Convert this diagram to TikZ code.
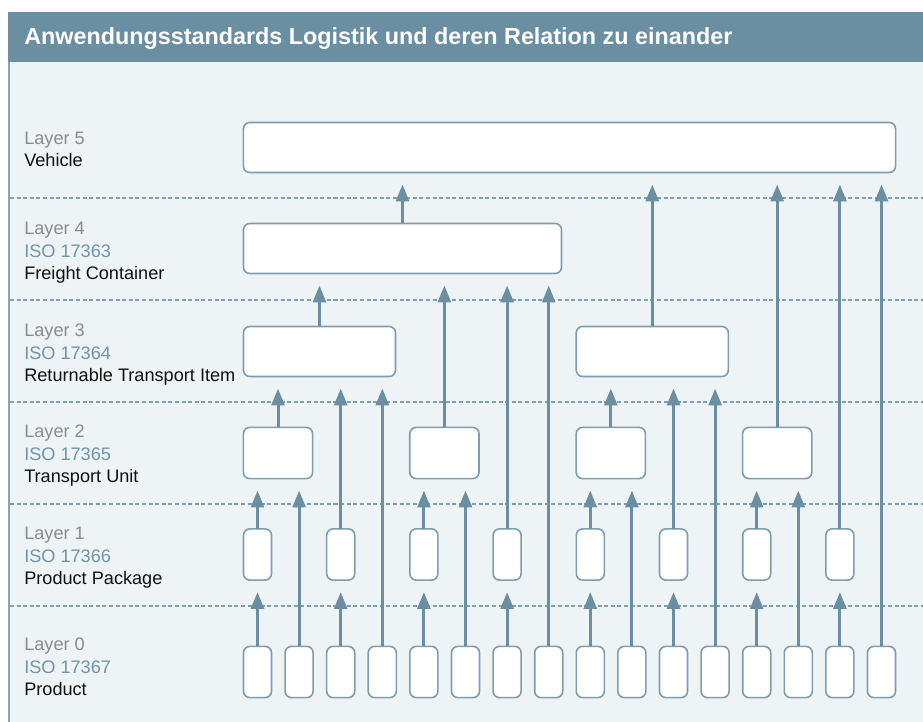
\documentclass[tikz,border=0pt]{standalone}
\usepackage{fontspec}
\setmainfont{Liberation Sans}
\usetikzlibrary{positioning,arrows.meta}
\definecolor{barblue}{HTML}{6A8FA2}
\definecolor{paleback}{HTML}{EEF3F6}
\definecolor{edgeblue}{HTML}{8AA6B5}
\definecolor{boxline}{HTML}{7E9DB0}
\definecolor{dashblue}{HTML}{7F9FB0}
\definecolor{graytxt}{HTML}{8C8C8C}
\definecolor{isotxt}{HTML}{6E95AA}
\definecolor{nametxt}{HTML}{101010}

\begin{document}
\begin{tikzpicture}[
    x=0.025cm, y=-0.025cm,
    box/.style={draw=boxline, fill=white, line width=0.04cm,
                rounded corners=0.16cm, inner sep=0pt, outer sep=0pt},
    item/.style={box, minimum width=0.7cm, minimum height=1.28cm},
    unit/.style={box, minimum width=1.73cm, minimum height=1.28cm},
    rti/.style={box, minimum width=3.8cm, minimum height=1.25cm},
    up/.style={draw=barblue, line width=0.075cm,
               -{Triangle[length=0.42cm, width=0.32cm]}, shorten >=0.3cm},
    sep/.style={draw=dashblue, line width=0.028cm,
                dash pattern=on 0.1cm off 0.065cm},
    layer/.style={anchor=north west, inner sep=0pt, align=left,
                  text=nametxt, font=\fontsize{12.9}{16}\selectfont}
]
\useasboundingbox (0,0) rectangle (923,722);

% ============================
% Frame and title
% ============================
\fill[paleback] (8,62) rectangle (923,722);
\fill[barblue] (8,12) rectangle (923,62);
\draw[edgeblue, line width=0.05cm] (8.6,62) -- (8.6,722);
\node[anchor=base west, inner sep=0pt, text=white,
      font=\bfseries\fontsize{16.6}{19}\selectfont] (title) at (24,45)
    {Anwendungsstandards Logistik und deren Relation zu einander};

% Layer separators
\draw[sep] (10,198) -- (923,198);
\draw[sep] (10,300) -- (923,300);
\draw[sep] (10,402) -- (923,402);
\draw[sep] (10,504) -- (923,504);
\draw[sep] (10,606) -- (923,606);

% ============================
% Layer labels
% ============================
\node[layer] (lab5) at (24,131.7) {\textcolor{graytxt}{Layer 5}\\Vehicle};
\node[layer] (lab4) at (24,222)
    {\textcolor{graytxt}{Layer 4}\\\textcolor{isotxt}{ISO 17363}\\Freight Container};
\node[layer] (lab3) at (24,324)
    {\textcolor{graytxt}{Layer 3}\\\textcolor{isotxt}{ISO 17364}\\Returnable Transport Item};
\node[layer] (lab2) at (24,425)
    {\textcolor{graytxt}{Layer 2}\\\textcolor{isotxt}{ISO 17365}\\Transport Unit};
\node[layer] (lab1) at (24,527)
    {\textcolor{graytxt}{Layer 1}\\\textcolor{isotxt}{ISO 17366}\\Product Package};
\node[layer] (lab0) at (24,638)
    {\textcolor{graytxt}{Layer 0}\\\textcolor{isotxt}{ISO 17367}\\Product};

% ============================
% Boxes
% ============================
% Layer 5: vehicle
\node[box, minimum width=16.3cm, minimum height=1.25cm] (v) at (569.5,147.5) {};
% Layer 4: freight container
\node[box, minimum width=7.95cm, minimum height=1.25cm] (f) at (402.5,248.5) {};
% Layer 3: returnable transport items
\node[rti] (r0) at (319.5,351.5) {};
\node[rti] (r1) at (652.3,351.5) {};
% Layer 2: transport units
\node[unit] (t0) at (278.0,453) {};
\node[unit] (t1) at (444.4,453) {};
\node[unit] (t2) at (610.8,453) {};
\node[unit] (t3) at (777.2,453) {};
% Layer 1: product packages
\node[item] (k0) at (257.5,554.5) {};
\node[item] (k1) at (340.7,554.5) {};
\node[item] (k2) at (423.9,554.5) {};
\node[item] (k3) at (507.1,554.5) {};
\node[item] (k4) at (590.3,554.5) {};
\node[item] (k5) at (673.5,554.5) {};
\node[item] (k6) at (756.7,554.5) {};
\node[item] (k7) at (839.9,554.5) {};
% Layer 0: products
\node[item] (p0)  at (257.5,672) {};
\node[item] (p1)  at (299.1,672) {};
\node[item] (p2)  at (340.7,672) {};
\node[item] (p3)  at (382.3,672) {};
\node[item] (p4)  at (423.9,672) {};
\node[item] (p5)  at (465.5,672) {};
\node[item] (p6)  at (507.1,672) {};
\node[item] (p7)  at (548.7,672) {};
\node[item] (p8)  at (590.3,672) {};
\node[item] (p9)  at (631.9,672) {};
\node[item] (p10) at (673.5,672) {};
\node[item] (p11) at (715.1,672) {};
\node[item] (p12) at (756.7,672) {};
\node[item] (p13) at (798.3,672) {};
\node[item] (p14) at (839.9,672) {};
\node[item] (p15) at (881.5,672) {};

% ============================
% Relations
% ============================
% from layer 0
\draw[up] (p0.north)  -- (p0.north  |- k0.south);
\draw[up] (p1.north)  -- (p1.north  |- t0.south);
\draw[up] (p2.north)  -- (p2.north  |- k1.south);
\draw[up] (p3.north)  -- (p3.north  |- r0.south);
\draw[up] (p4.north)  -- (p4.north  |- k2.south);
\draw[up] (p5.north)  -- (p5.north  |- t1.south);
\draw[up] (p6.north)  -- (p6.north  |- k3.south);
\draw[up] (p7.north)  -- (p7.north  |- f.south);
\draw[up] (p8.north)  -- (p8.north  |- k4.south);
\draw[up] (p9.north)  -- (p9.north  |- t2.south);
\draw[up] (p10.north) -- (p10.north |- k5.south);
\draw[up] (p11.north) -- (p11.north |- r1.south);
\draw[up] (p12.north) -- (p12.north |- k6.south);
\draw[up] (p13.north) -- (p13.north |- t3.south);
\draw[up] (p14.north) -- (p14.north |- k7.south);
\draw[up] (p15.north) -- (p15.north |- v.south);
% from layer 1
\draw[up] (k0.north) -- (k0.north |- t0.south);
\draw[up] (k1.north) -- (k1.north |- r0.south);
\draw[up] (k2.north) -- (k2.north |- t1.south);
\draw[up] (k3.north) -- (k3.north |- f.south);
\draw[up] (k4.north) -- (k4.north |- t2.south);
\draw[up] (k5.north) -- (k5.north |- r1.south);
\draw[up] (k6.north) -- (k6.north |- t3.south);
\draw[up] (k7.north) -- (k7.north |- v.south);
% from layer 2
\draw[up] (t0.north) -- (t0.north |- r0.south);
\draw[up] (t1.north) -- (t1.north |- f.south);
\draw[up] (t2.north) -- (t2.north |- r1.south);
\draw[up] (t3.north) -- (t3.north |- v.south);
% from layers 3 and 4
\draw[up] (r0.north) -- (r0.north |- f.south);
\draw[up] (r1.north) -- (r1.north |- v.south);
\draw[up] (f.north)  -- (f.north  |- v.south);

\end{tikzpicture}
\end{document}
